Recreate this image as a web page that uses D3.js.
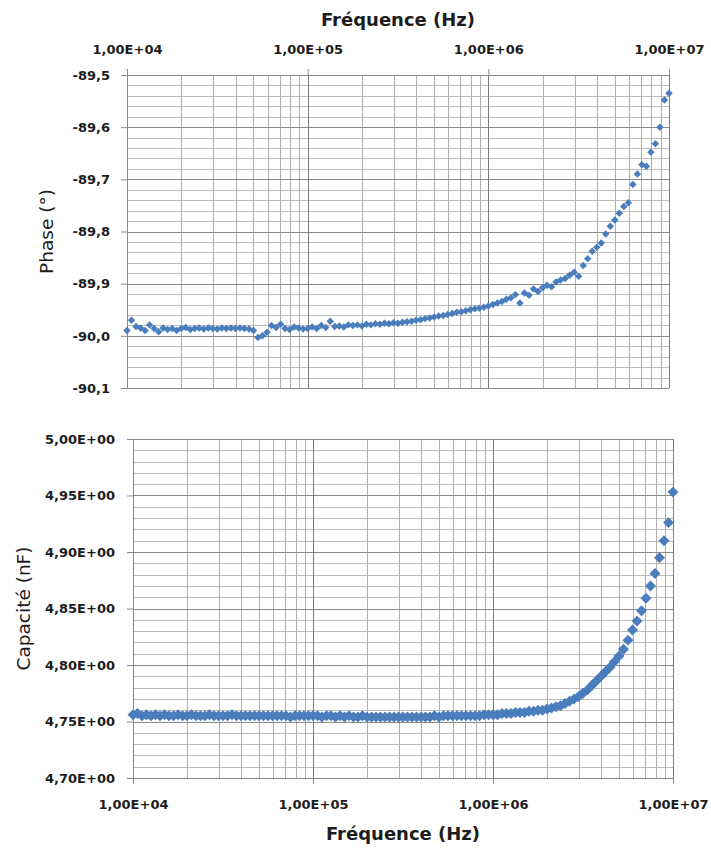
<!DOCTYPE html>
<html><head><meta charset="utf-8">
<script src="https://cdn.jsdelivr.net/npm/d3@7"></script>
<style>body{margin:0;background:#fff}</style>
</head><body><svg id="c" width="711" height="850"></svg>
<script>
// ---- data ----
const freqHz = [
1.0000e4,1.0593e4,1.1220e4,1.1885e4,1.2589e4,1.3335e4,1.4125e4,1.4962e4,1.5849e4,1.6788e4,
1.7783e4,1.8836e4,1.9953e4,2.1135e4,2.2387e4,2.3714e4,2.5119e4,2.6607e4,2.8184e4,2.9854e4,
3.1623e4,3.3497e4,3.5481e4,3.7584e4,3.9811e4,4.2170e4,4.4668e4,4.7315e4,5.0119e4,5.3088e4,
5.6234e4,5.9566e4,6.3096e4,6.6834e4,7.0795e4,7.4989e4,7.9433e4,8.4140e4,8.9125e4,9.4406e4,
1.0000e5,1.0593e5,1.1220e5,1.1885e5,1.2589e5,1.3335e5,1.4125e5,1.4962e5,1.5849e5,1.6788e5,
1.7783e5,1.8836e5,1.9953e5,2.1135e5,2.2387e5,2.3714e5,2.5119e5,2.6607e5,2.8184e5,2.9854e5,
3.1623e5,3.3497e5,3.5481e5,3.7584e5,3.9811e5,4.2170e5,4.4668e5,4.7315e5,5.0119e5,5.3088e5,
5.6234e5,5.9566e5,6.3096e5,6.6834e5,7.0795e5,7.4989e5,7.9433e5,8.4140e5,8.9125e5,9.4406e5,
1.0000e6,1.0593e6,1.1220e6,1.1885e6,1.2589e6,1.3335e6,1.4125e6,1.4962e6,1.5849e6,1.6788e6,
1.7783e6,1.8836e6,1.9953e6,2.1135e6,2.2387e6,2.3714e6,2.5119e6,2.6607e6,2.8184e6,2.9854e6,
3.1623e6,3.3497e6,3.5481e6,3.7584e6,3.9811e6,4.2170e6,4.4668e6,4.7315e6,5.0119e6,5.3088e6,
5.6234e6,5.9566e6,6.3096e6,6.6834e6,7.0795e6,7.4989e6,7.9433e6,8.4140e6,8.9125e6,9.4406e6,
1.0000e7
];
const phaseDeg = [
-89.990,-89.970,-89.982,-89.985,-89.990,-89.979,-89.986,-89.992,-89.985,-89.988,
-89.986,-89.990,-89.986,-89.984,-89.988,-89.986,-89.985,-89.987,-89.985,-89.986,
-89.987,-89.985,-89.986,-89.985,-89.986,-89.985,-89.986,-89.987,-89.990,-90.003,
-90.000,-89.993,-89.980,-89.984,-89.978,-89.986,-89.988,-89.983,-89.985,-89.987,
-89.986,-89.983,-89.986,-89.980,-89.984,-89.972,-89.982,-89.981,-89.983,-89.979,
-89.980,-89.979,-89.981,-89.978,-89.979,-89.977,-89.978,-89.976,-89.977,-89.975,
-89.976,-89.974,-89.973,-89.972,-89.970,-89.969,-89.967,-89.966,-89.964,-89.962,
-89.961,-89.959,-89.957,-89.955,-89.954,-89.952,-89.950,-89.948,-89.947,-89.945,
-89.943,-89.940,-89.937,-89.934,-89.930,-89.927,-89.921,-89.937,-89.918,-89.922,
-89.910,-89.915,-89.908,-89.903,-89.906,-89.897,-89.893,-89.890,-89.884,-89.878,
-89.886,-89.865,-89.852,-89.838,-89.830,-89.822,-89.805,-89.790,-89.778,-89.765,
-89.752,-89.745,-89.710,-89.690,-89.672,-89.675,-89.648,-89.632,-89.600,-89.548,
-89.535
];
const capNF = [
4.756,4.757,4.755,4.756,4.755,4.756,4.755,4.756,4.755,4.755,
4.756,4.755,4.755,4.756,4.755,4.755,4.755,4.756,4.755,4.755,
4.755,4.755,4.756,4.755,4.755,4.755,4.755,4.755,4.755,4.755,
4.755,4.755,4.755,4.755,4.755,4.754,4.755,4.755,4.755,4.755,
4.755,4.755,4.754,4.755,4.755,4.754,4.755,4.754,4.755,4.754,
4.754,4.755,4.754,4.754,4.754,4.754,4.754,4.754,4.754,4.754,
4.754,4.754,4.754,4.754,4.754,4.754,4.754,4.755,4.754,4.755,
4.755,4.755,4.755,4.755,4.755,4.755,4.755,4.755,4.756,4.756,
4.756,4.756,4.757,4.757,4.757,4.758,4.758,4.758,4.759,4.759,
4.760,4.760,4.761,4.762,4.763,4.764,4.766,4.768,4.770,4.772,
4.775,4.778,4.782,4.786,4.790,4.794,4.798,4.803,4.808,4.814,
4.822,4.831,4.839,4.848,4.859,4.870,4.881,4.895,4.910,4.926,
4.953
];
const xTickValues = [1e4, 1e5, 1e6, 1e7];
const xTickLabels = ["1,00E+04", "1,00E+05", "1,00E+06", "1,00E+07"];
const phaseTicks = [-90.1, -90.0, -89.9, -89.8, -89.7, -89.6, -89.5];
const phaseTickLabels = ["-90,1", "-90,0", "-89,9", "-89,8", "-89,7", "-89,6", "-89,5"];
const capTicks = [4.70, 4.75, 4.80, 4.85, 4.90, 4.95, 5.00];
const capTickLabels = ["4,70E+00", "4,75E+00", "4,80E+00", "4,85E+00", "4,90E+00", "4,95E+00", "5,00E+00"];
const xTitle = "Fréquence (Hz)";
const phaseTitle = "Phase (°)";
const capTitle = "Capacité (nF)";

// ---- drawing ----
const svg = d3.select("#c");
svg.append("rect").attr("width", 711).attr("height", 850).attr("fill", "#fff");
const FONT = "'DejaVu Sans', sans-serif";
const COLOR = "#4a7dbb";

function panel(o) {
  const x = d3.scaleLog().domain([1e4, 1e7]).range([o.L, o.R]);
  const y = d3.scaleLinear().domain([o.yTicks[0], o.yTicks[o.yTicks.length - 1]]).range([o.B, o.T]);
  const g = svg.append("g");
  const majStep = o.yTicks[1] - o.yTicks[0];
  const minor = [];
  for (let i = 0; i < o.yTicks.length - 1; i++)
    for (let j = 1; j < 5; j++) minor.push(o.yTicks[i] + majStep * j / 5);
  g.selectAll(".hm").data(minor).join("line")
    .attr("x1", o.L).attr("x2", o.R).attr("y1", d => Math.round(y(d)) + 0.5).attr("y2", d => Math.round(y(d)) + 0.5)
    .attr("stroke", "#bdbdbd").attr("stroke-width", 1);
  const vt = x.ticks();
  g.selectAll(".vm").data(vt.filter(d => !xTickValues.includes(d))).join("line")
    .attr("y1", o.T).attr("y2", o.B).attr("x1", d => Math.round(x(d)) + 0.5).attr("x2", d => Math.round(x(d)) + 0.5)
    .attr("stroke", "#b0b0b0").attr("stroke-width", 1);
  g.selectAll(".hM").data(o.yTicks).join("line")
    .attr("x1", o.L).attr("x2", o.R).attr("y1", d => Math.round(y(d)) + 0.5).attr("y2", d => Math.round(y(d)) + 0.5)
    .attr("stroke", "#8a8a8a").attr("stroke-width", 1);
  g.selectAll(".vM").data(xTickValues).join("line")
    .attr("y1", o.T).attr("y2", o.B).attr("x1", d => Math.round(x(d)) + 0.5).attr("x2", d => Math.round(x(d)) + 0.5)
    .attr("stroke", "#7a7a7a").attr("stroke-width", 1);

  const yAxis = d3.axisLeft(y).tickValues(o.yTicks).tickFormat((d, i) => o.yLabels[i]).tickSize(6).tickPadding(o.yPad);
  const ga = g.append("g").attr("transform", `translate(${o.L},0)`).call(yAxis);
  const xAxis = (o.top ? d3.axisTop(x) : d3.axisBottom(x)).tickValues(xTickValues)
    .tickFormat((d, i) => xTickLabels[i]).tickSize(6).tickPadding(o.xPad);
  const gx = g.append("g").attr("transform", `translate(0,${o.top ? o.T : o.B})`).call(xAxis);
  [ga, gx].forEach(a => {
    a.select(".domain").attr("stroke", "#8a8a8a");
    a.selectAll(".tick line").attr("stroke", "#8a8a8a");
    a.selectAll("text").attr("font-family", FONT).attr("font-weight", "bold").attr("font-size", 13).attr("fill", "#1c1c1c");
  });

  const sym = d3.symbol(d3.symbolSquare, o.msize);
  g.append("g").selectAll("path").data(freqHz.map((f, i) => [f, o.values[i]])).join("path")
    .attr("d", sym)
    .attr("transform", d => `translate(${x(d[0])},${y(d[1])}) rotate(45)`)
    .attr("fill", COLOR);

  g.append("text").attr("x", (o.L + o.R) / 2).attr("y", o.xTitleY).attr("text-anchor", "middle")
    .attr("font-family", FONT).attr("font-weight", "bold").attr("font-size", 18).attr("fill", "#1c1c1c").text(xTitle);
  g.append("text").attr("transform", `translate(${o.yTitleX},${(o.T + o.B) / 2}) rotate(-90)`).attr("text-anchor", "middle")
    .attr("font-family", FONT).attr("font-size", 18.5).attr("fill", "#1c1c1c").text(o.yTitle);
}

panel({L: 127, R: 669, T: 75, B: 388, top: true, yTicks: phaseTicks, yLabels: phaseTickLabels,
  values: phaseDeg, msize: 28, yPad: 11, xPad: 15, xTitleY: 26, yTitleX: 53, yTitle: phaseTitle});
panel({L: 133, R: 673, T: 439, B: 778, top: false, yTicks: capTicks, yLabels: capTickLabels,
  values: capNF, msize: 60, yPad: 12, xPad: 16, xTitleY: 840, yTitleX: 30, yTitle: capTitle});
</script>
</body></html>
